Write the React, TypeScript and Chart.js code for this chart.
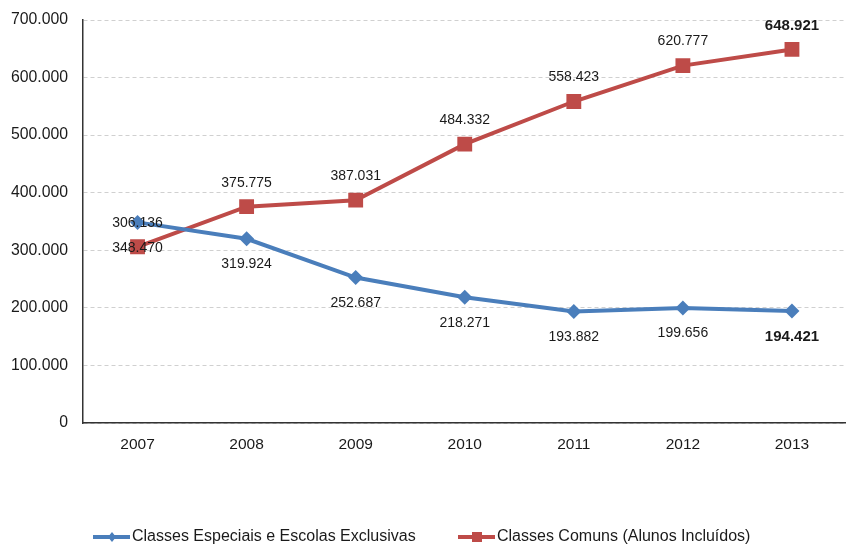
import React, { useEffect, useRef } from "react";
import { Chart, registerables } from "chart.js";

Chart.register(...registerables);

const years = ["2007", "2008", "2009", "2010", "2011", "2012", "2013"];
const especiais = [348470, 319924, 252687, 218271, 193882, 199656, 194421];
const comuns = [306136, 375775, 387031, 484332, 558423, 620777, 648921];
const seriesNames = ["Classes Especiais e Escolas Exclusivas", "Classes Comuns (Alunos Incluídos)"];
const yMin = 0;
const yMax = 700000;
const yStep = 100000;

const BLUE = "#4A7EBB";
const RED = "#BE4B48";
const FONT = "'Liberation Sans', Arial, sans-serif";

function fmt(v: number): string {
  if (v === 0) return "0";
  const s = Math.round(v).toString();
  return s.replace(/\B(?=(\d{3})+(?!\d))/g, ".");
}

const labelPlugin = {
  id: "pointLabels",
  afterDatasetsDraw(chart: any) {
    const ctx = chart.ctx;
    ctx.save();
    ctx.fillStyle = "#1a1a1a";
    ctx.textAlign = "center";
    ctx.textBaseline = "middle";
    chart.data.datasets.forEach((ds: any, di: number) => {
      const meta = chart.getDatasetMeta(di);
      const offset = di === 0 ? 25.5 : -24;
      meta.data.forEach((pt: any, i: number) => {
        const last = i === ds.data.length - 1;
        ctx.font = last ? `bold 15px ${FONT}` : `14px ${FONT}`;
        ctx.fillText(fmt(ds.data[i]), pt.x, pt.y + offset);
      });
    });
    ctx.restore();
  },
};

const legendPlugin = {
  id: "customLegend",
  afterDraw(chart: any) {
    const ctx = chart.ctx;
    const y = 537;
    const items = [
      { x: 93, color: BLUE, shape: "diamond", text: seriesNames[0] },
      { x: 458, color: RED, shape: "square", text: seriesNames[1] },
    ];
    ctx.save();
    items.forEach((it) => {
      ctx.strokeStyle = it.color;
      ctx.lineWidth = 4;
      ctx.beginPath();
      ctx.moveTo(it.x, y);
      ctx.lineTo(it.x + 37, y);
      ctx.stroke();
      const cx = it.x + 19;
      ctx.fillStyle = it.color;
      ctx.beginPath();
      if (it.shape === "diamond") {
        ctx.moveTo(cx, y - 5);
        ctx.lineTo(cx + 4, y);
        ctx.lineTo(cx, y + 5);
        ctx.lineTo(cx - 4, y);
        ctx.closePath();
      } else {
        ctx.rect(cx - 5, y - 5, 10, 10);
      }
      ctx.fill();
      ctx.fillStyle = "#1a1a1a";
      ctx.font = `16px ${FONT}`;
      ctx.textAlign = "left";
      ctx.textBaseline = "middle";
      ctx.fillText(it.text, it.x + 39, y);
    });
    ctx.restore();
  },
};

export default function App() {
  const ref = useRef<HTMLCanvasElement | null>(null);
  useEffect(() => {
    if (!ref.current) return;
    const chart = new Chart(ref.current, {
      type: "line",
      data: {
        labels: years,
        datasets: [
          {
            label: seriesNames[0],
            data: especiais,
            borderColor: BLUE,
            backgroundColor: BLUE,
            borderWidth: 4,
            pointStyle: "rectRot",
            pointRadius: 7.5,
            pointBorderWidth: 0,
            pointBackgroundColor: BLUE,
            tension: 0,
          },
          {
            label: seriesNames[1],
            data: comuns,
            borderColor: RED,
            backgroundColor: RED,
            borderWidth: 4,
            pointStyle: "rect",
            pointRadius: 10.5,
            pointBorderWidth: 0,
            pointBackgroundColor: RED,
            tension: 0,
          },
        ],
      },
      options: {
        responsive: false,
        animation: false,
        devicePixelRatio: 1,
        layout: { padding: { top: 20, left: 0, right: 0, bottom: 0 } },
        plugins: { legend: { display: false }, tooltip: { enabled: false } },
        scales: {
          x: {
            offset: true,
            grid: { display: false, drawTicks: false },
            border: { display: true, color: "#333", width: 1.5 },
            ticks: { color: "#1a1a1a", font: { family: FONT, size: 15.5 }, padding: 12, maxRotation: 0 },
            afterFit: (s: any) => { s.height = 122; },
          },
          y: {
            min: yMin,
            max: yMax,
            grid: { color: "#d0d0d0", drawTicks: false, lineWidth: 1 },
            border: { display: true, color: "#333", width: 1.5, dash: [4, 3] },
            ticks: {
              stepSize: yStep,
              color: "#1a1a1a",
              font: { family: FONT, size: 15.8 },
              padding: 15,
              callback: (v: any) => fmt(Number(v)),
            },
            afterFit: (s: any) => { s.width = 83; s.paddingTop = 4; s.paddingBottom = 4; },
          },
        },
      },
      plugins: [labelPlugin, legendPlugin],
    } as any);
    return () => chart.destroy();
  }, []);
  return (
    <div style={{ position: "fixed", left: 0, top: 0, width: 846, height: 545, overflow: "hidden", background: "#fff" }}>
      <canvas ref={ref} width={857} height={545} style={{ display: "block", width: 857, height: 545 }} />
    </div>
  );
}
